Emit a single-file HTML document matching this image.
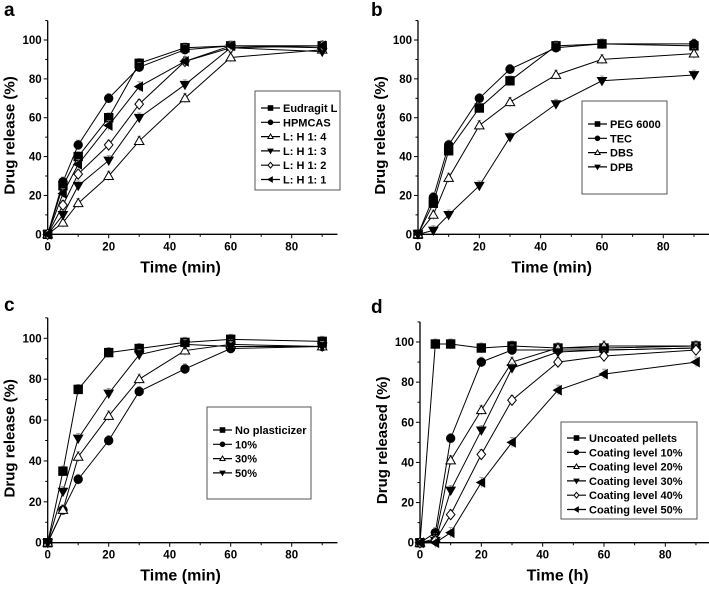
<!DOCTYPE html>
<html><head><meta charset="utf-8"><style>
body{margin:0;background:#fff;}
svg{display:block;font-family:"Liberation Sans",Arial,sans-serif;font-weight:bold;}
</style></head><body>
<svg id="fig" width="709" height="593" viewBox="0 0 709 593"></svg>
<script>
const timesMin = [0,5,10,20,30,45,60,90];
const xTicks = [0,20,40,60,80];
const yTicks = [0,20,40,60,80,100];

const aNames = ["Eudragit L","HPMCAS","L: H 1: 4","L: H 1: 3","L: H 1: 2","L: H 1: 1"];
const aEudragit = [0,25,40,60,88,96,97,97];
const aHPMCAS = [0,27,46,70,86,95,97,96];
const aLH14 = [0,6,16,30,48,70,91,95];
const aLH13 = [0,10,25,38,60,77,96,94];
const aLH12 = [0,15,31,46,67,89,96,97];
const aLH11 = [0,21,36,56,76,89,97,97];

const bNames = ["PEG 6000","TEC","DBS","DPB"];
const bPEG = [0,16,43,65,79,97,98,97];
const bTEC = [0,19,46,70,85,96,98,98];
const bDBS = [0,10,29,56,68,82,90,93];
const bDPB = [0,2,10,25,50,67,79,82];

const cNames = ["No plasticizer","10%","30%","50%"];
const cNone = [0,35,75,93,95,98,99.5,98.5];
const c10 = [0,16,31,50,74,85,95,96];
const c30 = [0,16,42,62,80,94,97,96];
const c50 = [0,25,51,73,92,97,96,96];

const dNames = ["Uncoated pellets","Coating level 10%","Coating level 20%","Coating level 30%","Coating level 40%","Coating level 50%"];
const dUncoated = [0,99,99,97,98,97,97,98];
const d10 = [0,5,52,90,96,96,96,97];
const d20 = [0,2,41,66,90,97,98,98];
const d30 = [0,1,26,56,87,95,96,97];
const d40 = [0,1,14,44,71,90,93,96];
const d50 = [0,0,5,30,50,76,84,90];

const svg = document.getElementById('fig');
const NS = 'http://www.w3.org/2000/svg';
function mk(tag, attrs, parent){const e=document.createElementNS(NS,tag);for(const k in attrs)e.setAttribute(k,attrs[k]);(parent||svg).appendChild(e);return e;}

function marker(g, type, x, y, s){
  const r=s||4.3; let e;
  const fill = type.open ? '#fff' : (type.gray ? '#555' : '#000');
  const st = {fill:fill, stroke:'#000','stroke-width':type.open?1:0.8};
  if(type.k==='sq') e=mk('rect',Object.assign({x:x-r,y:y-r,width:2*r,height:2*r},st),g);
  else if(type.k==='ci') e=mk('circle',Object.assign({cx:x,cy:y,r:r},st),g);
  else {
    let p;
    if(type.k==='up') p=[[x,y-r*1.1],[x+r*1.1,y+r*0.8],[x-r*1.1,y+r*0.8]];
    else if(type.k==='dn') p=[[x,y+r*1.1],[x+r*1.1,y-r*0.8],[x-r*1.1,y-r*0.8]];
    else if(type.k==='lt') p=[[x-r*1.1,y],[x+r*0.8,y-r*1.1],[x+r*0.8,y+r*1.1]];
    else p=[[x,y-r*1.2],[x+r,y],[x,y+r*1.2],[x-r,y]];
    e=mk('polygon',Object.assign({points:p.map(q=>q.join(',')).join(' ')},st),g);
  }
  return e;
}

function panel(cfg){
  const g=mk('g',{});
  
  
  const X=v=>cfg.x0+v*(cfg.x80-cfg.x0)/80;
  const Y=v=>cfg.y0-v*(cfg.y0-cfg.y100)/100;
  const xEnd=X(95), yTop=Y(110);
  const lt=mk('text',{x:cfg.lx,y:cfg.ly,'font-size':19},g); lt.textContent=cfg.letter;
  
  
  const ax=mk('path',{d:`M${cfg.x0},${yTop} V${cfg.y0} H${xEnd}`,stroke:'#000','stroke-width':1.3,fill:'none'},g);
  
  
  for(let v=0;v<=90;v+=10){const big=v%20===0;mk('line',{x1:X(v),x2:X(v),y1:cfg.y0,y2:cfg.y0+(big?4:2.5),stroke:'#000','stroke-width':1},g);}
  for(let v=0;v<=110;v+=10){const big=v%20===0;mk('line',{x1:cfg.x0,x2:cfg.x0-(big?4:2.5),y1:Y(v),y2:Y(v),stroke:'#000','stroke-width':1},g);}
  xTicks.forEach(v=>{const t=mk('text',{x:X(v),y:cfg.y0+16,'text-anchor':'middle','font-size':11.5},g);t.textContent=v;
    
    });
  yTicks.forEach(v=>{const t=mk('text',{x:cfg.x0-6,y:Y(v)+4,'text-anchor':'end','font-size':11.5},g);t.textContent=v;
    
    });
  const xt=mk('text',{x:(cfg.x0+xEnd)/2+(cfg.letter==='d'?-8:-12),y:cfg.y0+38,'text-anchor':'middle','font-size':16},g);xt.textContent=cfg.xTitle;
  
  
  const yc=(cfg.y0+yTop)/2+8;
  const yt=mk('text',{x:0,y:0,transform:`translate(${cfg.x0-33},${yc}) rotate(-90)`,'text-anchor':'middle','font-size':15},g);yt.textContent=cfg.yTitle;
  
  
  cfg.series.forEach((s,i)=>{
    const sg=mk('g',{},g);
    
    
    mk('polyline',{points:timesMin.map((t,j)=>X(t)+','+Y(s.v[j])).join(' '),fill:'none',stroke:'#000','stroke-width':1},sg);
    timesMin.forEach((t,j)=>{ if(j>0){const e=2.5; mk('path',{d:`M${X(t)},${Y(s.v[j]+e)} V${Y(s.v[j]-e)} M${X(t)-2},${Y(s.v[j]+e)} H${X(t)+2}`,stroke:'#888','stroke-width':0.7,fill:'none'},sg);}
      const m=marker(sg,s.m,X(t),Y(s.v[j]));
      
      });
  });
  const L=cfg.legend;
  const lg=mk('g',{},g);
  
  
  mk('rect',{x:L.x,y:L.y,width:L.w,height:L.h,fill:'#fff',stroke:'#555','stroke-width':1},lg);
  cfg.series.forEach((s,i)=>{
    const yy=L.y+L.top+i*L.dy;
    const eg=mk('g',{},lg);
    
    
    mk('line',{x1:L.x+6,x2:L.x+25,y1:yy,y2:yy,stroke:'#000','stroke-width':1.2},eg);
    marker(eg,s.m,L.x+15.5,yy,2.4);
    const t=mk('text',{x:L.x+28,y:yy+4,'font-size':11},eg);t.textContent=cfg.names[i];
  });
}

const SQ={k:'sq'},CI={k:'ci'},UPO={k:'up',open:true},DN={k:'dn'},DI={k:'di',open:true},LT={k:'lt'};
panel({letter:'a',lx:4,ly:16,x0:47.7,x80:291.7,y0:234.3,y100:40,xTitle:'Time (min)',yTitle:'Drug release (%)',names:aNames,
  series:[{v:aEudragit,m:SQ},{v:aHPMCAS,m:CI},{v:aLH14,m:UPO},{v:aLH13,m:DN},{v:aLH12,m:DI},{v:aLH11,m:LT}],
  legend:{x:255,y:91,w:85,h:99,top:17,dy:14.3}});
panel({letter:'b',lx:371,ly:16,x0:418,x80:663.3,y0:234.3,y100:40,xTitle:'Time (min)',yTitle:'Drug release (%)',names:bNames,
  series:[{v:bPEG,m:SQ},{v:bTEC,m:CI},{v:bDBS,m:UPO},{v:bDPB,m:DN}],
  legend:{x:582,y:101,w:85,h:93,top:23,dy:14.3}});
panel({letter:'c',lx:4,ly:311,x0:47.7,x80:291.7,y0:542.7,y100:338.3,xTitle:'Time (min)',yTitle:'Drug release (%)',names:cNames,
  series:[{v:cNone,m:SQ},{v:c10,m:CI},{v:c30,m:UPO},{v:c50,m:DN}],
  legend:{x:207,y:407,w:104,h:92,top:23,dy:14.3}});
panel({letter:'d',lx:371,ly:313,x0:420,x80:665.3,y0:542.7,y100:342,xTitle:'Time (h)',yTitle:'Drug released (%)',names:dNames,
  series:[{v:dUncoated,m:SQ},{v:d10,m:CI},{v:d20,m:UPO},{v:d30,m:DN},{v:d40,m:DI},{v:d50,m:LT}],
  legend:{x:561,y:422,w:136,h:97,top:16,dy:14.3}});
</script>
</body></html>
